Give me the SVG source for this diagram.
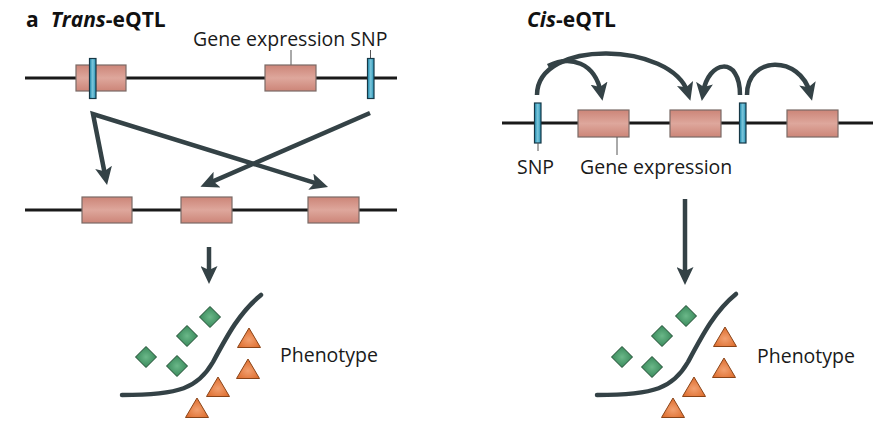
<svg xmlns="http://www.w3.org/2000/svg" width="881" height="445" viewBox="0 0 881 445">
<defs>
<linearGradient id="gBox" x1="0" y1="0" x2="0" y2="1">
<stop offset="0" stop-color="#cc8578"/>
<stop offset="0.5" stop-color="#dea79c"/>
<stop offset="1" stop-color="#cc8578"/>
</linearGradient>
<linearGradient id="gSnp" x1="0" y1="0" x2="1" y2="0">
<stop offset="0" stop-color="#1f8fb3"/>
<stop offset="0.5" stop-color="#7dc6db"/>
<stop offset="1" stop-color="#1f8fb3"/>
</linearGradient>
<radialGradient id="gDia" cx="0.5" cy="0.5" r="0.6">
<stop offset="0" stop-color="#6bb889"/>
<stop offset="1" stop-color="#2f8052"/>
</radialGradient>
<radialGradient id="gTri" cx="0.5" cy="0.6" r="0.6">
<stop offset="0" stop-color="#f2a070"/>
<stop offset="1" stop-color="#dc6a2a"/>
</radialGradient>
<marker id="ah" viewBox="0 0 18 17" refX="10" refY="8.5" markerWidth="18" markerHeight="17" markerUnits="userSpaceOnUse" orient="auto-start-reverse">
<path d="M0,0 L18,8.5 L0,17 L4,8.5 z" fill="#344246"/>
</marker>
<path id="dia" d="M0,-10.5 L10.5,0 L0,10.5 L-10.5,0 z"/>
<path id="tri" d="M0,0 L11.5,19.5 L-11.5,19.5 z"/>
</defs>
<style>
.t{font-family:"Open Sans","Liberation Sans",sans-serif;font-size:19.5px;fill:#1a1a1a;}
.h{font-family:"Open Sans","Liberation Sans",sans-serif;font-size:21px;font-weight:bold;fill:#111;}
.dna{stroke:#1a1a1a;stroke-width:3;fill:none;}
.box{fill:url(#gBox);stroke:#7a6a66;stroke-width:1.2;}
.snp{fill:url(#gSnp);stroke:#163846;stroke-width:1.2;}
.lead{stroke:#555;stroke-width:1;fill:none;}
.arr{stroke:#344246;stroke-width:4.5;fill:none;stroke-linejoin:miter;marker-end:url(#ah);}
.curve{stroke:#344246;stroke-width:4.5;fill:none;stroke-linecap:round;}
.d{fill:url(#gDia);stroke:#1e4a30;stroke-width:1;}
.tr{fill:url(#gTri);stroke:#8a4418;stroke-width:1;}
</style>

<!-- Panel a: Trans-eQTL -->
<g id="title-trans">
<text x="26" y="27" class="h">a<tspan dx="12" font-style="italic">Trans</tspan>-eQTL</text>
</g>
<g id="trans-labels">
<text x="193" y="46" class="t">Gene expression SNP</text>
<line x1="291" y1="50" x2="291" y2="65" class="lead"/>
<line x1="370.5" y1="50" x2="370.5" y2="58" class="lead"/>
</g>
<g id="trans-chrom1">
<line x1="25" y1="78" x2="397" y2="78" class="dna"/>
<rect x="76" y="65" width="50" height="26" class="box"/>
<rect x="89.5" y="58.5" width="6.5" height="40" class="snp"/>
<rect x="265" y="65" width="51" height="26" class="box"/>
<rect x="367.5" y="58.5" width="6.5" height="40" class="snp"/>
</g>
<g id="trans-chrom2">
<line x1="25" y1="210" x2="397" y2="210" class="dna"/>
<rect x="82" y="197" width="50" height="26" class="box"/>
<rect x="181" y="197" width="51" height="26" class="box"/>
<rect x="308" y="197" width="51" height="26" class="box"/>
</g>
<g id="trans-phenotype">
<path d="M122,395 C180,395 198,388 213,362 C228,334 240,312 261,295" class="curve"/>
<use href="#dia" x="210" y="317" class="d"/>
<use href="#dia" x="187" y="336" class="d"/>
<use href="#dia" x="146" y="357" class="d"/>
<use href="#dia" x="177" y="366" class="d"/>
<use href="#tri" x="249" y="328" class="tr"/>
<use href="#tri" x="248" y="359" class="tr"/>
<use href="#tri" x="218" y="377" class="tr"/>
<use href="#tri" x="197" y="398" class="tr"/>
<text x="280" y="362" class="t">Phenotype</text>
</g>

<!-- Panel: Cis-eQTL -->
<g id="title-cis">
<text x="527" y="27" class="h"><tspan font-style="italic">Cis</tspan>-eQTL</text>
</g>
<g id="cis-chrom">
<line x1="502" y1="123" x2="873" y2="123" class="dna"/>
<rect x="578" y="110" width="51" height="27" class="box"/>
<rect x="670" y="110" width="51" height="27" class="box"/>
<rect x="787" y="110" width="51" height="27" class="box"/>
<rect x="534.5" y="103" width="6.5" height="40" class="snp"/>
<rect x="739.5" y="103" width="6.5" height="40" class="snp"/>
</g>
<g id="cis-labels">
<line x1="538" y1="143" x2="538" y2="151" class="lead"/>
<line x1="617" y1="137" x2="617" y2="155" class="lead"/>
<text x="517" y="174" class="t">SNP</text>
<text x="580" y="174" class="t">Gene expression</text>
</g>
<g id="cis-phenotype">
<path d="M597,395 C655,395 673,388 688,362 C703,334 715,311 736,294" class="curve"/>
<use href="#dia" x="686" y="316" class="d"/>
<use href="#dia" x="662" y="336" class="d"/>
<use href="#dia" x="622" y="357" class="d"/>
<use href="#dia" x="652" y="367" class="d"/>
<use href="#tri" x="725" y="327" class="tr"/>
<use href="#tri" x="724" y="358" class="tr"/>
<use href="#tri" x="694" y="377" class="tr"/>
<use href="#tri" x="673" y="398" class="tr"/>
<text x="757" y="363" class="t">Phenotype</text>
</g>

<g id="connectors">
<path d="M105.5,177.2 L93,114 L320.4,184.6" class="arr" style="marker-start:url(#ah)"/>
<path d="M370,113 L207.8,183.6" class="arr"/>
<path d="M209,247 L209,276" class="arr"/>
<path d="M537,95 C537,38 672,42 688,93" class="arr"/>
<path d="M548,66 C570,55 595,62 601,93" class="arr"/>
<path d="M740,95 C740,55 708,60 703,93" class="arr"/>
<path d="M747,95 C747,55 800,55 810,93" class="arr"/>
<path d="M685,199 L685,277" class="arr"/>
</g>
</svg>
